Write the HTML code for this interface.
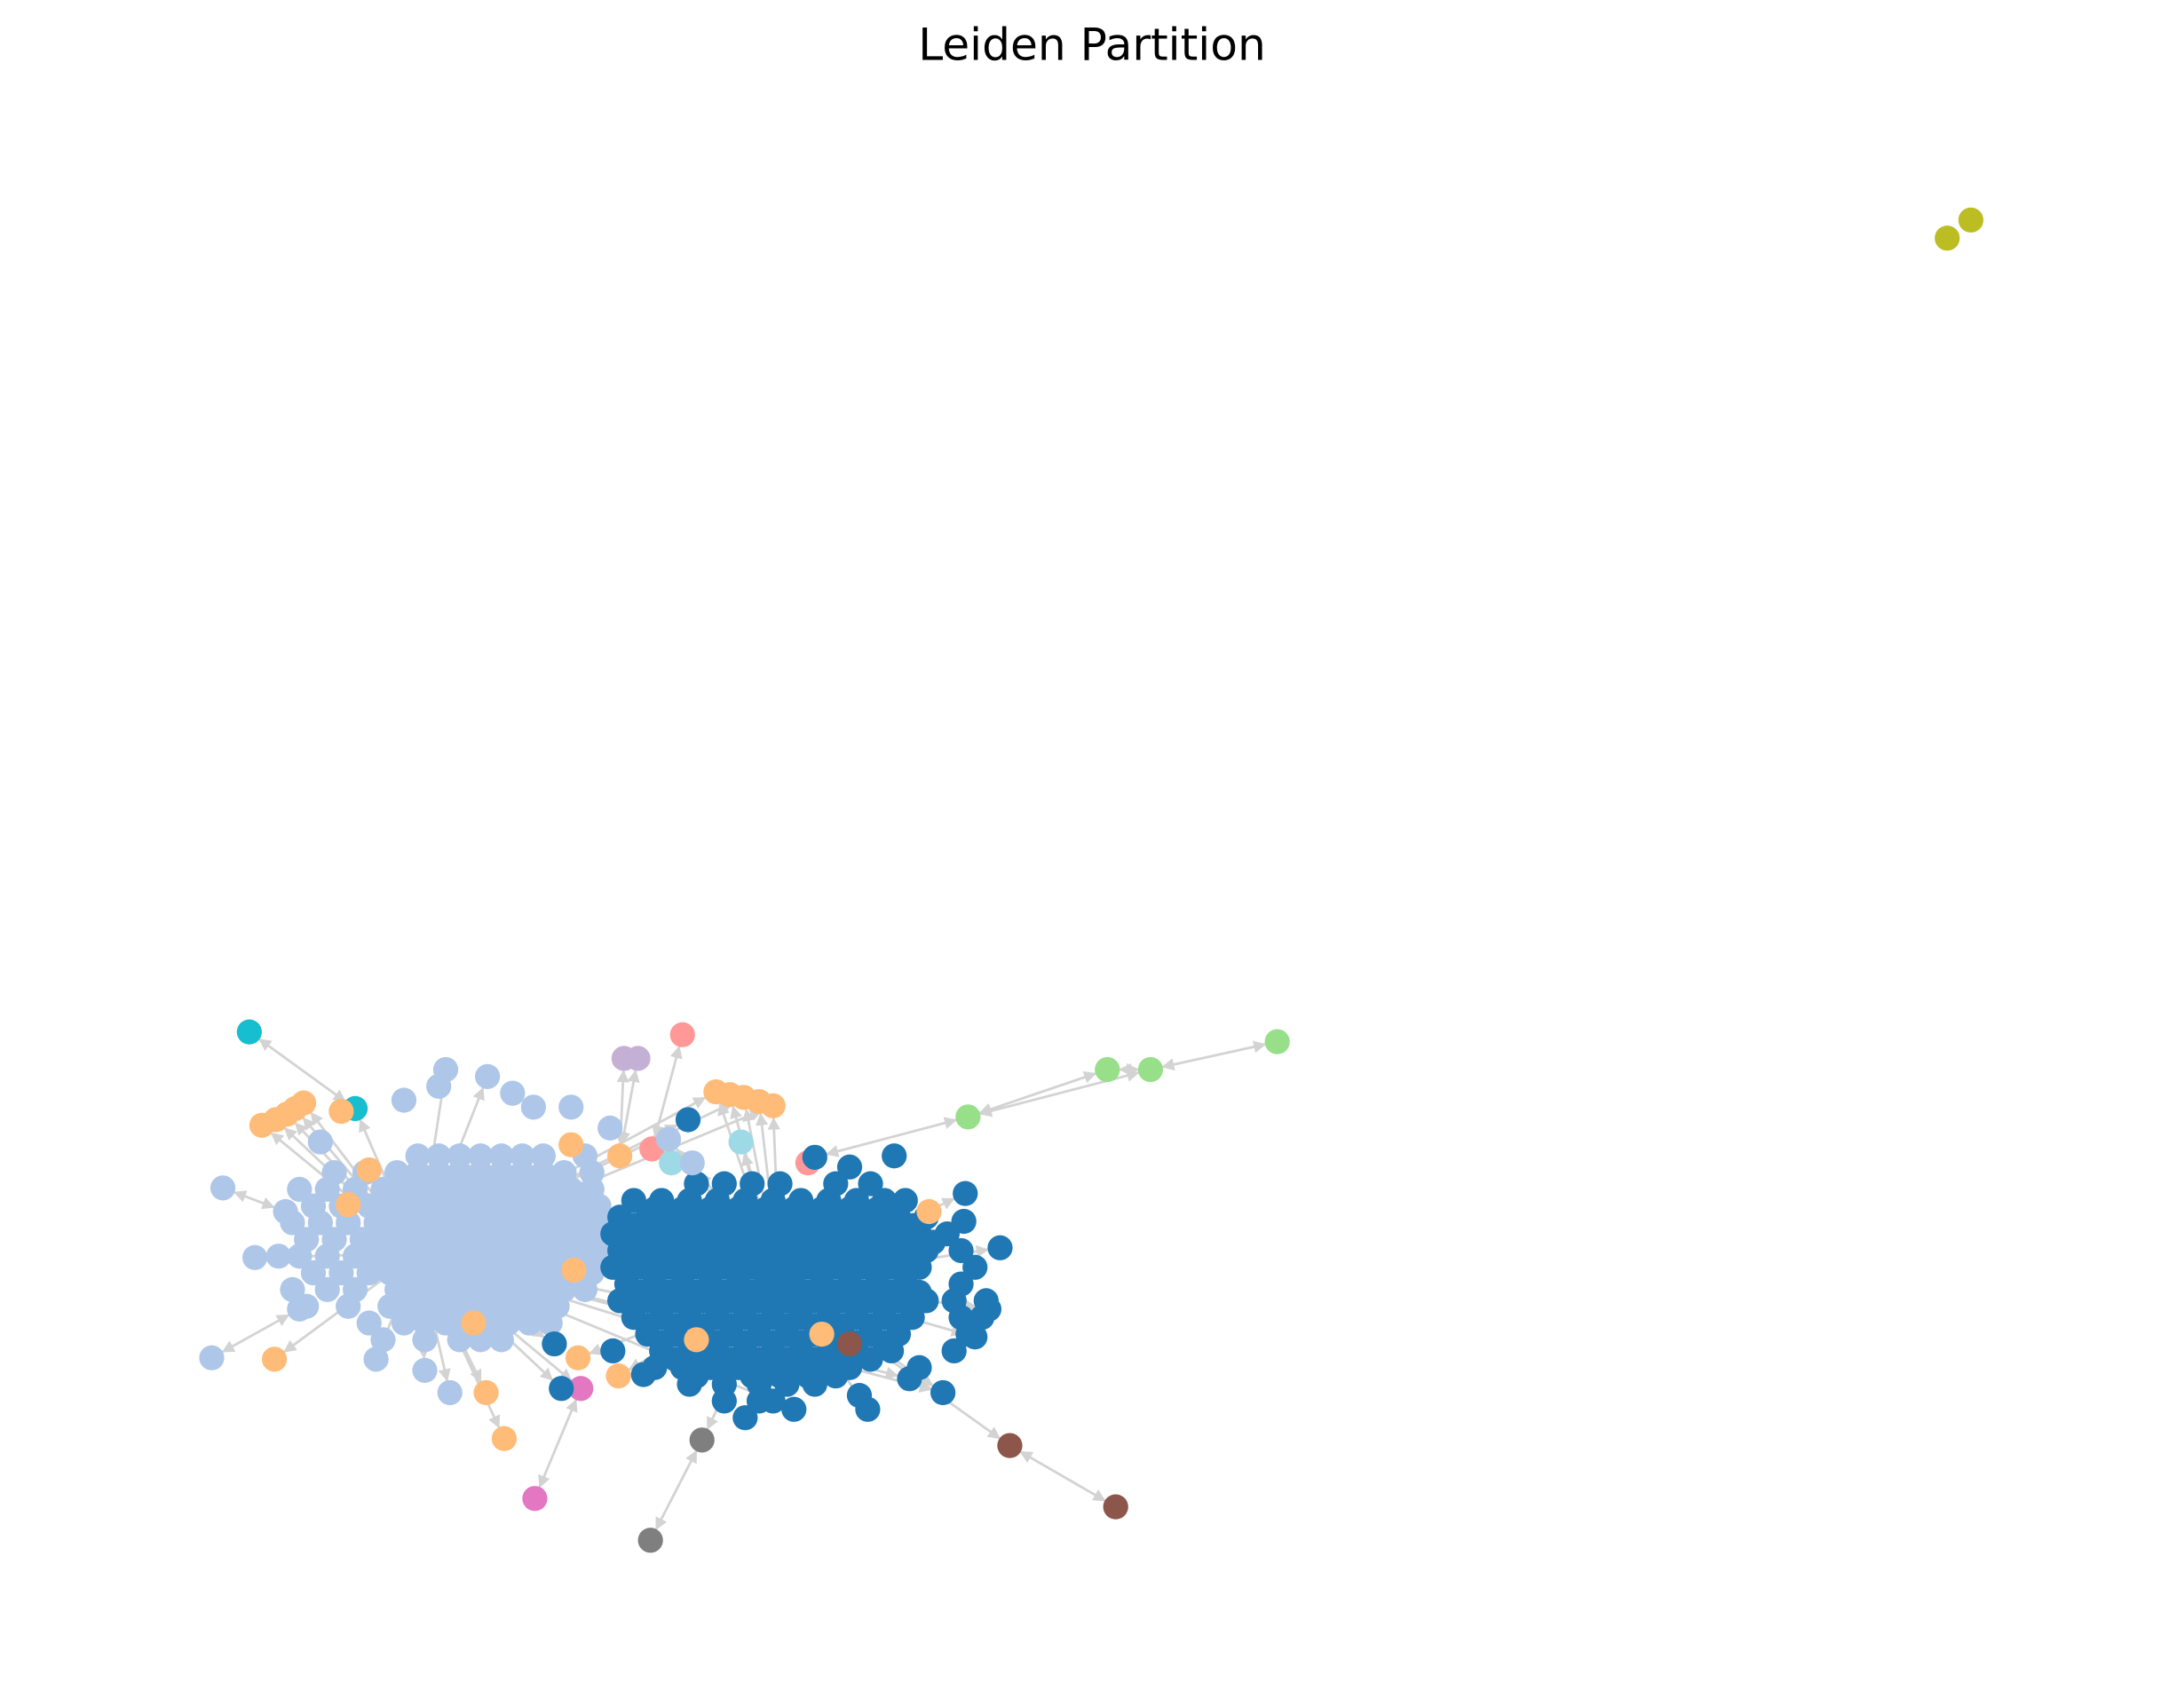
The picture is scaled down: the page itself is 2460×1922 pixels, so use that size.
<!DOCTYPE html>
<html><head><meta charset="utf-8"><title>Leiden Partition</title>
<style>html,body{margin:0;padding:0;background:#fff}svg{display:block}</style></head>
<body>
<svg id="chart" width="2460" height="1922" viewBox="0 0 1568 1225" preserveAspectRatio="none" xmlns="http://www.w3.org/2000/svg">
<defs><marker id="arr" viewBox="0 0 10 10" refX="9" refY="5" markerWidth="5" markerHeight="5" orient="auto-start-reverse"><path d="M0,0 L10,5 L0,10 z" fill="#d3d3d3"/></marker></defs>
<rect width="1568" height="1225" fill="#fff"/>
<text x="784" y="43" text-anchor="middle" font-family="DejaVu Sans, Liberation Sans, sans-serif" font-size="32" fill="#000">Leiden Partition</text>
<g id="edges"></g><g id="nodes"></g>
</svg>
<script>
const communityColors = {lb:'#aec7e8',db:'#1f77b4',or:'#ffbb78',gr:'#98df8a',ol:'#bcbd22',cy:'#17becf',pk:'#ff9896',lv:'#c5b0d5',lc:'#9edae5',br:'#8c564b',gy:'#7f7f7f',mg:'#e377c2'};
const namedNodes = {
 ol1:[1398,171,'ol'],ol2:[1415,158,'ol'],
 cy1:[179,741,'cy'],cy2:[255,796,'cy'],
 gr1:[695,802,'gr'],gr2:[795,768,'gr'],gr3:[826,768,'gr'],gr4:[917,748,'gr'],
 pk1:[490,743,'pk'],pk2:[468,825,'pk'],pk3:[580,835,'pk'],
 lv1:[448,760,'lv'],lv2:[458,760,'lv'],
 lc1:[532,820,'lc'],lc2:[482,835,'lc'],
 br1:[725,1038,'br'],br2:[801,1082,'br'],br3:[610,965,'br'],
 gy1:[504,1034,'gy'],gy2:[467,1106,'gy'],
 mg1:[384,1076,'mg'],mg2:[417,997,'mg'],
 or1:[514,784,'or'],or2:[524,786,'or'],or3:[534,788,'or'],or4:[545,791,'or'],or5:[555,794,'or'],
 or6:[188,808,'or'],or7:[198,804,'or'],or8:[206,800,'or'],or9:[212,796,'or'],or10:[218,792,'or'],
 or11:[197,976,'or'],or12:[362,1033,'or'],or13:[349,1000,'or'],or14:[445,830,'or'],or15:[410,822,'or'],
 or16:[667,870,'or'],or17:[444,988,'or'],or18:[415,975,'or'],or19:[340,950,'or'],or20:[250,865,'or'],
 or21:[265,840,'or'],or22:[412,912,'or'],or23:[500,962,'or'],or24:[590,958,'or'],or25:[245,798,'or'],
 lb1:[160,853,'lb'],lb2:[152,975,'lb'],lb3:[183,903,'lb'],lb4:[320,768,'lb'],lb5:[350,773,'lb'],
 lb6:[290,790,'lb'],lb7:[410,795,'lb'],lb8:[438,810,'lb'],lb9:[497,835,'lb'],lb10:[305,984,'lb'],
 lb11:[323,1000,'lb'],lb12:[270,976,'lb'],lb13:[215,940,'lb'],lb14:[205,870,'lb'],lb15:[230,820,'lb'],lb16:[480,818,'lb'],
 lb17:[315,780,'lb'],lb18:[368,785,'lb'],lb19:[383,795,'lb'],
 db1:[494,804,'db'],db2:[718,896,'db'],db3:[693,857,'db'],db4:[692,877,'db'],db5:[677,1000,'db'],
 db6:[623,1012,'db'],db7:[617,1002,'db'],db8:[653,990,'db'],db9:[403,997,'db'],db10:[398,965,'db'],
 db11:[642,830,'db'],db12:[585,831,'db'],db13:[610,838,'db'],db14:[710,940,'db'],db15:[700,960,'db'],
 db16:[570,1012,'db'],db17:[535,1018,'db'],db18:[462,987,'db'],
 hubL:[300,900,'lb'],hubD:[560,920,'db']
};
const lightBlueRows = {
 830:[300,315,330,345,360,375,390,420],
 842:[240,262,285,300,315,330,345,360,375,390,405,425],
 854:[215,235,255,275,290,305,320,335,350,365,380,395,410,425],
 866:[225,245,265,280,295,310,325,340,355,370,385,400,415,430],
 878:[210,230,250,270,285,300,315,330,345,360,375,390,405,420,435],
 890:[220,240,260,275,290,305,320,335,350,365,380,395,410,425],
 902:[200,215,235,255,270,285,300,315,330,345,360,375,390,405,420,435],
 914:[225,245,265,280,295,310,325,340,355,370,385,400,425],
 926:[210,235,255,285,300,315,330,345,360,375,390,405,420],
 938:[220,250,280,295,310,325,340,355,370,385,400],
 950:[265,290,305,320,335,350,365,380,395],
 962:[275,305,330,345,360]
};
const darkBlueRows = {
 850:[500,520,540,560,600,625],
 862:[455,475,495,515,535,555,575,595,615,635,650],
 874:[445,465,485,505,525,545,565,585,605,625,645,665],
 886:[440,460,480,500,520,540,560,580,600,620,640,660,680],
 898:[445,465,485,505,525,545,565,585,605,625,645,665,690],
 910:[440,460,480,500,520,540,560,580,600,620,640,660,700],
 922:[450,470,490,510,530,550,570,590,610,630,650,690],
 934:[445,465,485,505,525,545,565,585,605,625,645,665,685,708],
 946:[455,475,495,515,535,555,575,595,615,635,655,690,705],
 958:[465,485,505,525,545,565,585,605,625,645,695],
 970:[440,475,495,515,535,555,575,595,615,640,685],
 982:[470,490,510,530,550,570,590,610,660],
 994:[495,520,545,565,585],
 1006:[520,545,555]
};
const darkBlueFillRows = {
 868:[470,490,510,530,550,570,590,610,630],
 880:[455,475,495,515,535,555,575,595,615,635,655],
 892:[450,470,490,510,530,550,570,590,610,630,650,670],
 904:[455,475,495,515,535,555,575,595,615,635,655],
 916:[450,470,490,510,530,550,570,590,610,630,650],
 928:[460,480,500,520,540,560,580,600,620,640,660],
 940:[455,475,495,515,535,555,575,595,615,635,655],
 952:[465,485,505,525,545,565,585,605,625,645],
 964:[475,495,515,535,555,575,595,615,635],
 976:[485,505,525,545,565,585,605,625],
 988:[500,520,540,560,580,600]
};
const edgeList = [
 ['cy1','cy2'],['cy2','hubL'],['gr1','gr2'],['gr1','gr3'],['gr2','gr3'],['gr3','gr4'],['gr1','db12'],
 ['br1','br2'],['br1','hubD'],['gy1','gy2'],['gy1','hubD'],['mg1','mg2'],['mg2','hubL'],
 ['pk1','pk2'],['lv1','or14'],['lv2','or14'],['or1','hubD'],['or2','hubD'],['or3','hubD'],['or4','hubD'],['or5','hubD'],
 ['or1','hubL'],['or3','hubL'],['or5','hubL'],
 ['lb1','lb14'],['lb2','lb13'],['or11','hubL'],['or12','hubL'],['or13','hubL'],['lb3','hubL'],
 ['or6','hubL'],['or7','hubL'],['or8','hubL'],['or9','hubL'],['or10','hubL'],['lb4','hubL'],['lb5','hubL'],
 ['lb10','hubL'],['lb11','hubL'],['lb12','hubL'],['db9','hubL'],['db10','hubL'],
 ['db2','hubD'],['db3','hubD'],['db5','hubD'],['db6','hubD'],['db14','hubD'],['db15','hubD'],['lc1','hubD'],
 ['db1','hubL'],['lb9','hubD'],['lb16','hubD'],['or16','hubD'],['hubL','hubD'],
 ['or23','hubL'],['or24','hubL'],['db8','hubL'],['db5','hubL'],['db16','hubL'],['or17','hubD'],['or18','hubD']
];
const svgNS='http://www.w3.org/2000/svg';
const eg=document.getElementById('edges'), ng=document.getElementById('nodes');
edgeList.forEach(([a,b])=>{
 const p=namedNodes[a], q=namedNodes[b];
 const dx=q[0]-p[0], dy=q[1]-p[1], L=Math.hypot(dx,dy)||1, r=9;
 const l=document.createElementNS(svgNS,'line');
 l.setAttribute('x1',p[0]+dx/L*r);l.setAttribute('y1',p[1]+dy/L*r);
 l.setAttribute('x2',q[0]-dx/L*r);l.setAttribute('y2',q[1]-dy/L*r);
 l.setAttribute('stroke','#d3d3d3');l.setAttribute('stroke-width','1.8');
 l.setAttribute('marker-end','url(#arr)');l.setAttribute('marker-start','url(#arr)');
 
 
 eg.appendChild(l);
});
function addNode(x,y,g,name){
 const c=document.createElementNS(svgNS,'circle');
 c.setAttribute('cx',x);c.setAttribute('cy',y);c.setAttribute('r',9);c.setAttribute('fill',communityColors[g]);
 
 
 ng.appendChild(c);
}
Object.entries(lightBlueRows).forEach(([y,xs])=>xs.forEach((x,i)=>addNode(x,+y,'lb','node-lb-'+y+'-'+i)));
Object.entries(darkBlueRows).forEach(([y,xs])=>xs.forEach((x,i)=>addNode(x,+y,'db','node-db-'+y+'-'+i)));
Object.entries(darkBlueFillRows).forEach(([y,xs])=>xs.forEach((x,i)=>addNode(x,+y,'db','node-dbf-'+y+'-'+i)));
Object.entries(namedNodes).forEach(([k,[x,y,g]])=>addNode(x,y,g,'node-'+k));
</script>
</body></html>
